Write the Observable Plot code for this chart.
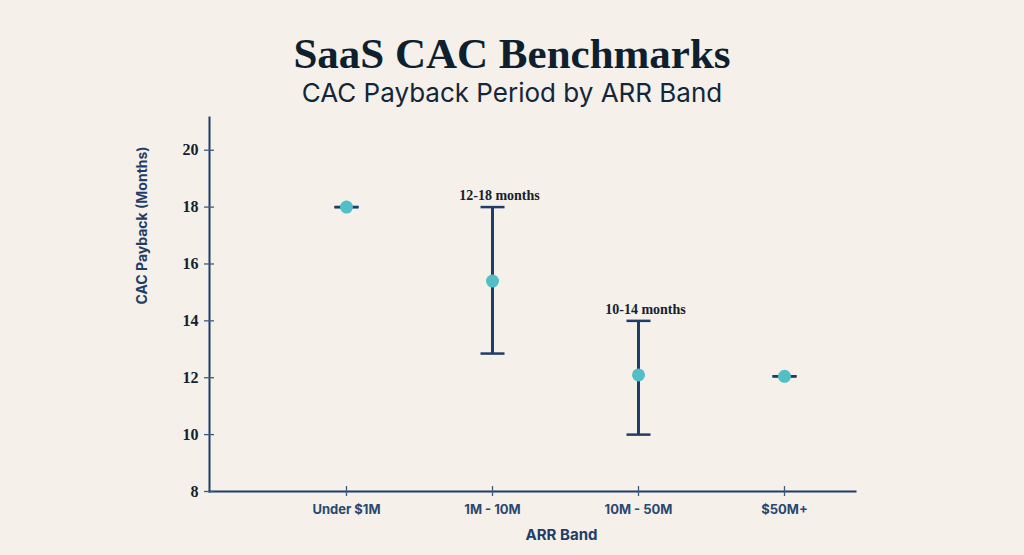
<!DOCTYPE html>
<html><head><meta charset="utf-8">
<script src="https://cdn.jsdelivr.net/npm/d3@7"></script>
<script src="https://cdn.jsdelivr.net/npm/@observablehq/plot@0.6"></script>
<style>
html,body{margin:0;padding:0;background:#f5f0ea;}
#wrap{position:relative;width:1024px;height:555px;overflow:hidden;background:#f5f0ea;}
#title{position:absolute;left:0;width:1024px;top:32px;text-align:center;font-family:"Liberation Serif",serif;font-weight:700;font-size:43px;line-height:1;color:#0e1f2e;}
#subtitle{position:absolute;left:0;width:1024px;top:80px;text-align:center;font-family:Inter,sans-serif;font-weight:400;font-size:26px;line-height:1;color:#13263a;}
#chart{position:absolute;left:0;top:110px;}
</style></head>
<body>
<div id="wrap">
  <div id="title">SaaS CAC Benchmarks</div>
  <div id="subtitle">CAC Payback Period by ARR Band</div>
  <div id="chart"></div>
</div>
<script>
const bands = ["Under $1M", "1M - 10M", "10M - 50M", "$50M+"];
const mids  = [18, 15.4, 12.1, 12.05];
const lows  = [18, 12.85, 10, 12.05];
const highs = [18, 18, 14, 12.05];
const notes = ["", "12-18 months", "10-14 months", ""];
const yTicks = [8, 10, 12, 14, 16, 18, 20];
const xLabel = "ARR Band";
const yLabel = "CAC Payback (Months)";

const data = bands.map((b, i) => ({band: b, mid: mids[i], low: lows[i], high: highs[i], note: notes[i]}));

const navy = "#1f3d66";
const teal = "#52bec6";
const ink = "#14212e";

// horizontal cap symbol for error bars
const capSymbol = {
  draw(ctx, size) {
    const w = Math.sqrt(size / Math.PI);
    ctx.moveTo(-w, 0);
    ctx.lineTo(w, 0);
  }
};

const chart = Plot.plot({
  width: 1024,
  height: 445,
  marginLeft: 209,
  marginRight: 169,
  marginTop: 7,
  marginBottom: 64,
  style: {background: "transparent", overflow: "visible"},
  x: {type: "point", domain: bands, padding: 0.702, align: 0.66},
  y: {domain: [8, 21.15]},
  marks: [
    Plot.frame({anchor: "left", stroke: navy, strokeWidth: 2}),
    Plot.frame({anchor: "bottom", stroke: navy, strokeWidth: 2}),
    Plot.axisY(yTicks, {tickSize: 10, dx: 5, tickPadding: 6, stroke: "#3d5a80", strokeWidth: 1.3,
      fill: ink, fontFamily: "Liberation Serif", fontWeight: 700, fontSize: 16, label: null}),
    Plot.axisX({tickSize: 10, dy: -5, tickPadding: 8, stroke: "#3d5a80", strokeWidth: 1.3,
      fill: "#2a4870", fontFamily: "Inter", fontWeight: 700, fontSize: 13, label: null}),
    Plot.ruleX(data, {x: "band", y1: "low", y2: "high", stroke: navy, strokeWidth: 3}),
    Plot.dot(data, {x: "band", y: "low", symbol: capSymbol, r: 12, fill: "none", stroke: navy, strokeWidth: 2.5}),
    Plot.dot(data, {x: "band", y: "high", symbol: capSymbol, r: 12, fill: "none", stroke: navy, strokeWidth: 2.5}),
    Plot.dot(data, {x: "band", y: "mid", r: 6.5, fill: teal, stroke: null}),
    Plot.text(data.filter(d => d.note), {x: "band", y: "high", text: "note", dx: 7, dy: -7, lineAnchor: "bottom",
      fontFamily: "Liberation Serif", fontWeight: 700, fontSize: 14, fill: ink}),
    Plot.text([yLabel], {frameAnchor: "left", text: d => d, rotate: -90, dx: -67,
      fontFamily: "Inter", fontWeight: 700, fontSize: 14, fill: navy}),
    Plot.text([xLabel], {frameAnchor: "bottom", text: d => d, dx: 29, dy: 48,
      fontFamily: "Inter", fontWeight: 700, fontSize: 15, fill: navy})
  ]
});
document.getElementById("chart").appendChild(chart);
</script>
</body></html>
